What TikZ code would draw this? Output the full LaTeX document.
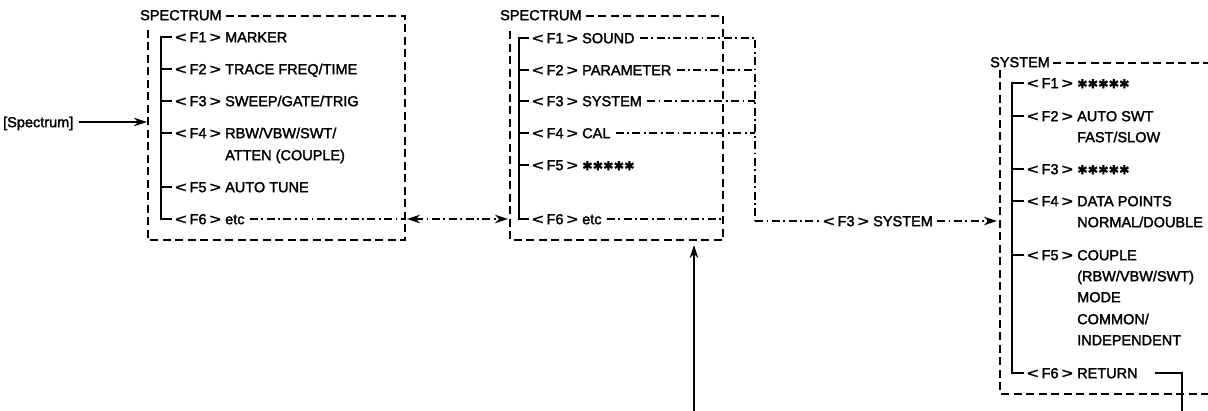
\documentclass[tikz,border=0pt]{standalone}
\usepackage{fontspec}
\setmainfont{Liberation Sans}[FakeBold=2]
\newfontfamily\symfont{DejaVu Sans}[FakeBold=1]
\usetikzlibrary{arrows.meta,calc}
\newcommand\fk[1]{\makebox[50pt][l]{\scalebox{1.35}[1]{<}\hspace{3pt}F#1\hspace{3pt}\scalebox{1.35}[1]{>}}}
\newcommand\stars{{\symfont\fontsize{12.5}{12.5}\selectfont ✱✱✱✱✱}}
\begin{document}
\begin{tikzpicture}[x=1pt,y=-1pt,
 lbl/.style={anchor=west,inner sep=0pt,text height=10.4pt,text depth=0pt,font=\fontsize{14.5}{16}\selectfont},
 boxline/.style={line width=1.7pt,dash pattern=on 8pt off 4.5pt},
 dd/.style={line width=1.4pt,dash pattern=on 8pt off 3.5pt on 1.8pt off 3.5pt},
 tree/.style={line width=1.9pt},
 solidarrow/.style={line width=1.7pt,-{Stealth[length=13pt,width=8.5pt]}},
 ddarrow/.style={dd,-{Stealth[length=13pt,width=8.5pt]}},
]
\useasboundingbox (0,0) rectangle (1208,411);

% ---------- left box ----------
\node[lbl] (s1) at (140,15) {SPECTRUM};
\draw[boxline] ($(s1.east)+(4,1)$) -- (405,16) -- (405,240) -- (148,240) -- (148,27);
\node[lbl] (a1) at (175,37) {\fk{1}MARKER};
\node[lbl] (a2) at (175,69) {\fk{2}TRACE FREQ/TIME};
\node[lbl] (a3) at (175,101) {\fk{3}SWEEP/GATE/TRIG};
\node[lbl] (a4) at (175,133) {\fk{4}RBW/VBW/SWT/};
\node[lbl] (a4b) at (225,155) {ATTEN (COUPLE)};
\node[lbl] (a5) at (175,187) {\fk{5}AUTO TUNE};
\node[lbl] (a6) at (175,219) {\fk{6}etc};
\draw[tree] ($(a1.west)+(-3,0)$) -- ++(-11,0) |- ($(a6.west)+(-3,0)$);
\foreach \n in {a2,a3,a4,a5} \draw[tree] ($(\n.west)+(-3,0)$) -- ++(-11,0);
\coordinate (e1) at (405,219);
\draw[dd] ($(a6.east)+(5,0)$) -- (e1);

\node[lbl] (sp) at (3,122) {[Spectrum]};
\coordinate (sa) at (147,122);
\draw[solidarrow] ($(sp.east)+(5,0)$) -- (sa);

% double arrow
\coordinate (da) at (407,219);
\coordinate (db) at (508,219);
\draw[dd,{Stealth[length=13pt,width=8.5pt]}-{Stealth[length=13pt,width=8.5pt]}] (da) -- (db);

% ---------- middle box ----------
\node[lbl] (s2) at (500,15) {SPECTRUM};
\draw[boxline] ($(s2.east)+(4,1)$) -- (723,16) -- (723,240) -- (510,240) -- (510,27);
\node[lbl] (b1) at (532,38) {\fk{1}SOUND};
\node[lbl] (b2) at (532,70) {\fk{2}PARAMETER};
\node[lbl] (b3) at (532,101) {\fk{3}SYSTEM};
\node[lbl] (b4) at (532,133) {\fk{4}CAL};
\node[lbl] (b5) at (532,165) {\fk{5}\stars};
\node[lbl] (b6) at (532,219) {\fk{6}etc};
\draw[tree] ($(b1.west)+(-3,0)$) -- ++(-10,0) |- ($(b6.west)+(-3,0)$);
\foreach \n in {b2,b3,b4,b5} \draw[tree] ($(\n.west)+(-3,0)$) -- ++(-10,0);
\coordinate (e2) at (723,219);
\draw[dd] ($(b6.east)+(5,0)$) -- (e2);

\coordinate (j) at (755,221);
\draw[dd] ($(b1.east)+(5,0)$) -- (b1 -| j) -- (j);
\foreach \n in {b2,b3,b4} \draw[dd] ($(\n.east)+(5,0)$) -- (\n -| j);
\node[lbl] (f3) at (823,221) {\fk{3}SYSTEM};
\draw[dd] (j) -- ($(f3.west)+(-3,0)$);
\coordinate (sysin) at (997,221);
\draw[ddarrow] ($(f3.east)+(4,0)$) -- (sysin);

\coordinate (bot) at (694,411);
\coordinate (bt) at (694,245);
\draw[solidarrow] (bot) -- (bt);

% ---------- system box ----------
\node[lbl] (sy) at (990,62) {SYSTEM};
\draw[boxline] ($(sy.east)+(3,1)$) -- (1212,63);
\draw[boxline] (1000,70) -- (1000,394) -- (1212,394);
\node[lbl] (c1) at (1027,83) {\fk{1}\stars};
\node[lbl] (c2) at (1027,116) {\fk{2}AUTO SWT};
\node[lbl] (c2b) at (1077,137) {FAST/SLOW};
\node[lbl] (c3) at (1027,169) {\fk{3}\stars};
\node[lbl] (c4) at (1027,201) {\fk{4}DATA POINTS};
\node[lbl] (c4b) at (1077,222) {NORMAL/DOUBLE};
\node[lbl] (c5) at (1027,255) {\fk{5}COUPLE};
\node[lbl] (c5b) at (1077,276) {(RBW/VBW/SWT)};
\node[lbl] (c5c) at (1077,297) {MODE};
\node[lbl] (c5d) at (1077,319) {COMMON/};
\node[lbl] (c5e) at (1077,340) {INDEPENDENT};
\node[lbl] (c6) at (1027,373) {\fk{6}RETURN};
\draw[tree] ($(c1.west)+(-3,0)$) -- ++(-12,0) |- ($(c6.west)+(-3,0)$);
\foreach \n in {c2,c3,c4,c5} \draw[tree] ($(\n.west)+(-3,0)$) -- ++(-12,0);
\coordinate (rb) at (1182,411);
\draw[tree] ($(c6.east)+(17,0)$) -| (rb);
\end{tikzpicture}
\end{document}
